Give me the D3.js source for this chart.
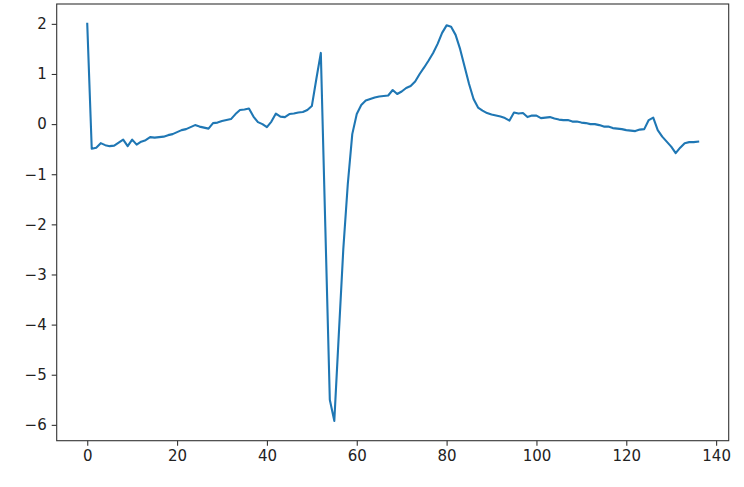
<!DOCTYPE html>
<html>
<head>
<meta charset="utf-8">
<script src="https://cdn.jsdelivr.net/npm/d3@7"></script>
<style>
  html, body { margin: 0; padding: 0; background: #fff; }
  svg { display: block; }
</style>
</head>
<body>
<svg id="chart" width="744" height="487"></svg>
<script>
// Series values (index 0..136)
const values = [
  2.0, -0.49, -0.47, -0.38, -0.42, -0.44, -0.43, -0.37, -0.31, -0.44,
  -0.31, -0.41, -0.35, -0.32, -0.26, -0.27, -0.26, -0.25, -0.22, -0.2,
  -0.16, -0.12, -0.1, -0.06, -0.02, -0.05, -0.07, -0.09, 0.02, 0.03,
  0.06, 0.08, 0.1, 0.2, 0.28, 0.29, 0.31, 0.15, 0.04, 0.0,
  -0.06, 0.05, 0.21, 0.15, 0.14, 0.2, 0.21, 0.23, 0.24, 0.28,
  0.36, 0.9, 1.42, -2.05, -5.5, -5.92, -4.2, -2.5, -1.2, -0.2,
  0.2, 0.38, 0.47, 0.5, 0.53, 0.55, 0.56, 0.57, 0.68, 0.6,
  0.65, 0.72, 0.76, 0.85, 1.0, 1.13, 1.27, 1.42, 1.6, 1.82,
  1.97, 1.94, 1.78, 1.5, 1.15, 0.8, 0.5, 0.33, 0.27, 0.22,
  0.19, 0.17, 0.15, 0.12, 0.07, 0.23, 0.21, 0.22, 0.14, 0.17,
  0.17, 0.12, 0.13, 0.14, 0.11, 0.09, 0.08, 0.08, 0.05, 0.05,
  0.03, 0.02, 0.0, 0.0, -0.02, -0.05, -0.05, -0.08, -0.09, -0.1,
  -0.12, -0.13, -0.14, -0.11, -0.1, 0.08, 0.13, -0.12, -0.25, -0.35,
  -0.45, -0.58, -0.47, -0.38, -0.36, -0.36, -0.35
];
const xTicks = [0, 20, 40, 60, 80, 100, 120, 140];
const yTicks = [-6, -5, -4, -3, -2, -1, 0, 1, 2];

const svg = d3.select("#chart");
const plot = { left: 56.7, top: 4, width: 672, height: 436.7 };

const n = values.length;
const xPad = (n - 1) * 0.05;
const yMin = d3.min(values), yMax = d3.max(values);
const yPad = (yMax - yMin) * 0.05;

const x = d3.scaleLinear().domain([-xPad, n - 1 + xPad]).range([plot.left, plot.left + plot.width]);
const y = d3.scaleLinear().domain([yMin - yPad, yMax + yPad]).range([plot.top + plot.height, plot.top]);

const fmt = d => (d < 0 ? "\u2212" + Math.abs(d) : String(d));

const xAxis = d3.axisBottom(x).tickValues(xTicks).tickFormat(fmt).tickSize(5).tickPadding(5);
const yAxis = d3.axisLeft(y).tickValues(yTicks).tickFormat(fmt).tickSize(5).tickPadding(5);

const gx = svg.append("g").attr("transform", `translate(0,${plot.top + plot.height})`).call(xAxis);
const gy = svg.append("g").attr("transform", `translate(${plot.left},0)`).call(yAxis);

[gx, gy].forEach(g => {
  g.select(".domain").remove();
  g.selectAll("line").attr("stroke", "#333").attr("stroke-width", 1.1);
  g.selectAll("text").attr("fill", "#222").style("font-family", "'DejaVu Sans', sans-serif").style("font-size", "15px");
});

const line = d3.line().x((d, i) => x(i)).y(d => y(d));
svg.append("path")
  .datum(values)
  .attr("fill", "none")
  .attr("stroke", "#1f77b4")
  .attr("stroke-width", 2.1)
  .attr("stroke-linejoin", "round")
  .attr("stroke-linecap", "square")
  .attr("d", line);

svg.append("rect")
  .attr("x", plot.left).attr("y", plot.top)
  .attr("width", plot.width).attr("height", plot.height)
  .attr("fill", "none").attr("stroke", "#333").attr("stroke-width", 1.1);
</script>
</body>
</html>
